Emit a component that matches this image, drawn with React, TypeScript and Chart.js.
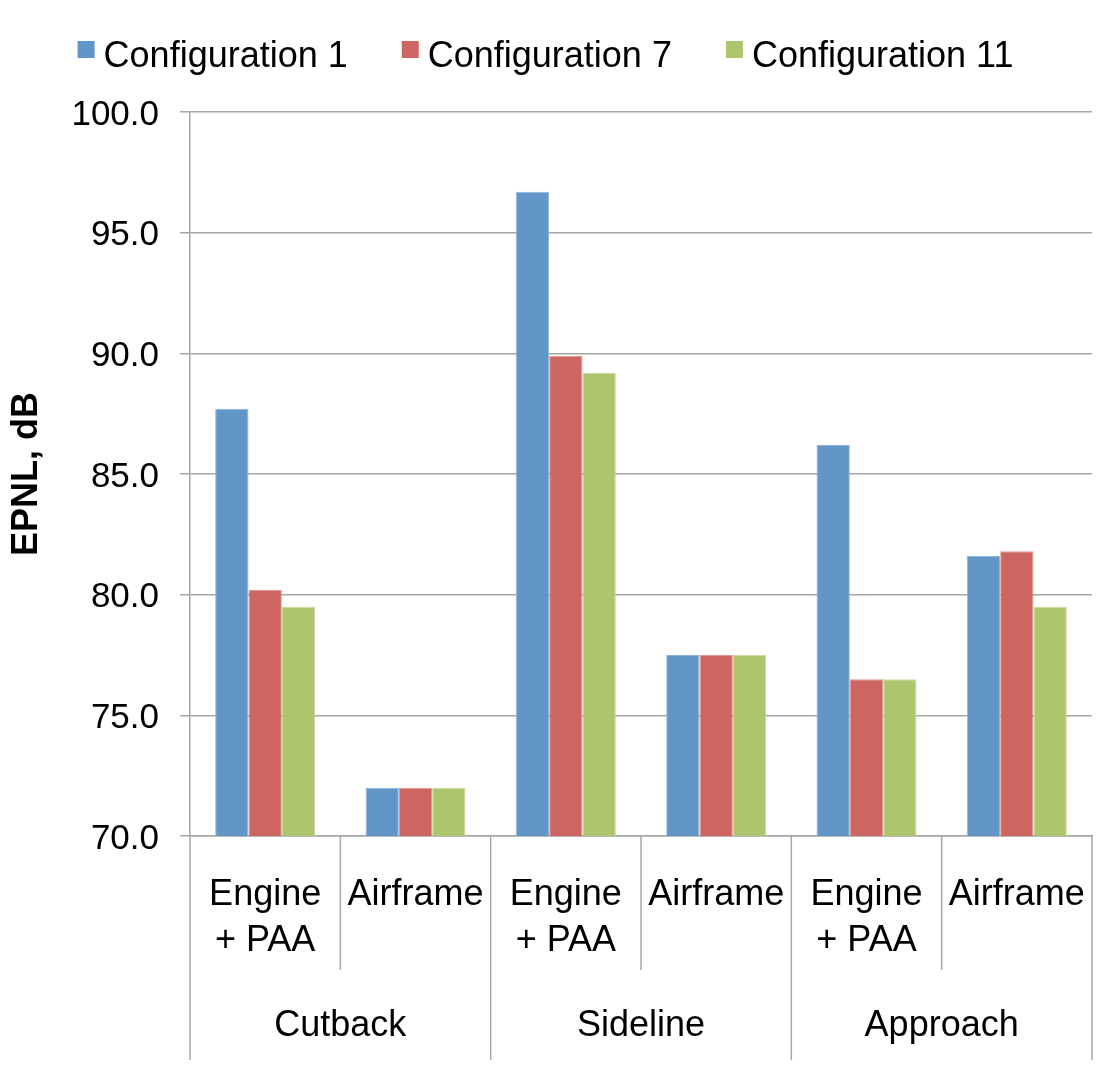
import React, { useEffect, useRef } from 'react';
import { Chart, registerables } from 'chart.js';

Chart.register(...registerables);

const subCategories: (string | string[])[] = [
  ['Engine', '+ PAA'],
  'Airframe',
  ['Engine', '+ PAA'],
  'Airframe',
  ['Engine', '+ PAA'],
  'Airframe',
];
const groupLabels = ['Cutback', 'Sideline', 'Approach'];
const seriesNames = ['Configuration 1', 'Configuration 7', 'Configuration 11'];
const config1 = [87.7, 72.0, 96.7, 77.5, 86.2, 81.6];
const config7 = [80.2, 72.0, 89.9, 77.5, 76.5, 81.8];
const config11 = [79.5, 72.0, 89.2, 77.5, 76.5, 79.5];
const seriesColors = ['#6296C8', '#CD6660', '#ADC66E'];
const seriesEdges = ['#8DB3DA', '#E0948F', '#C9DA9C'];
const yMin = 70;
const yMax = 100;
const yStep = 5;
const yTitle = 'EPNL, dB';

const FONT = '"Liberation Sans", Arial, Helvetica, sans-serif';
const GRID = '#A6A6A6';

const decorPlugin = {
  id: 'decor',
  afterDraw(chart: any) {
    const ctx = chart.ctx;
    const xs = chart.scales.x;
    const area = chart.chartArea;
    const n = chart.data.labels.length;
    ctx.save();
    // separators between categories below the axis
    ctx.strokeStyle = GRID;
    ctx.lineWidth = 1.5;
    for (let i = 0; i <= n; i++) {
      let x: number;
      if (i === 0) x = area.left;
      else if (i === n) x = area.right;
      else x = (xs.getPixelForValue(i - 1) + xs.getPixelForValue(i)) / 2;
      const end = i % 2 === 0 ? area.bottom + 224 : area.bottom + 134;
      ctx.beginPath();
      ctx.moveTo(x, area.bottom);
      ctx.lineTo(x, end);
      ctx.stroke();
    }
    // group labels
    ctx.fillStyle = '#000';
    ctx.font = `36px ${FONT}`;
    ctx.textAlign = 'center';
    ctx.textBaseline = 'middle';
    groupLabels.forEach((g, gi) => {
      const x = (xs.getPixelForValue(gi * 2) + xs.getPixelForValue(gi * 2 + 1)) / 2;
      ctx.fillText(g, x, area.bottom + 190);
    });
    // legend
    const boxSize = 17;
    const boxGap = 9;
    const itemGap = 54;
    ctx.textAlign = 'left';
    const items = chart.data.datasets.map((ds: any) => ({
      label: ds.label,
      color: ds.backgroundColor,
      w: ctx.measureText(ds.label).width,
    }));
    const total =
      items.reduce((s: number, it: any) => s + boxSize + boxGap + it.w, 0) +
      itemGap * (items.length - 1);
    let cx = chart.width / 2 - 8 - total / 2;
    const textY = 57;
    items.forEach((it: any) => {
      ctx.fillStyle = it.color;
      ctx.fillRect(cx, 41, boxSize, boxSize);
      ctx.fillStyle = '#000';
      ctx.fillText(it.label, cx + boxSize + boxGap, textY);
      cx += boxSize + boxGap + it.w + itemGap;
    });
    ctx.restore();
  },
};

export default function App() {
  const canvasRef = useRef<HTMLCanvasElement | null>(null);

  useEffect(() => {
    if (!canvasRef.current) return;
    Chart.defaults.font.family = FONT;
    const values = [config1, config7, config11];
    const chart = new Chart(canvasRef.current, {
      type: 'bar',
      data: {
        labels: subCategories as any,
        datasets: seriesNames.map((name, i) => ({
          label: name,
          data: values[i],
          backgroundColor: seriesColors[i],
          borderColor: seriesEdges[i],
          borderWidth: 1,
          categoryPercentage: 0.665,
          barPercentage: 1.0,
        })),
      },
      options: {
        responsive: false,
        animation: false,
        layout: { padding: { top: 112, right: 15, bottom: 0, left: 0 } },
        plugins: {
          legend: { display: false },
          tooltip: { enabled: false },
          title: { display: false },
        },
        scales: {
          x: {
            type: 'category',
            grid: { display: false },
            border: { display: true, color: GRID, width: 1.5 },
            ticks: {
              color: '#000',
              font: { size: 36, lineHeight: 1.28 },
              padding: 28,
              maxRotation: 0,
              minRotation: 0,
              autoSkip: false,
            },
            afterFit: (scale: any) => {
              scale.height = 229;
              scale.paddingLeft = 0;
              scale.paddingRight = 0;
            },
          },
          y: {
            min: yMin,
            max: yMax,
            grid: {
              color: GRID,
              lineWidth: 1.5,
              drawTicks: true,
              tickLength: 10,
            },
            border: { display: true, color: GRID, width: 1.5 },
            ticks: {
              stepSize: yStep,
              color: '#000',
              font: { size: 35 },
              padding: 21,
              labelOffset: 3,
              callback: (v: any) => Number(v).toFixed(1),
            },
            title: {
              display: true,
              text: yTitle,
              color: '#000',
              font: { size: 36, weight: 'bold', lineHeight: 1.2 },
              padding: { top: 5, bottom: 0 },
            },
            afterFit: (scale: any) => {
              scale.width = 190;
            },
          },
        },
      },
      plugins: [decorPlugin],
    });
    return () => chart.destroy();
  }, []);

  return (
    <div style={{ position: 'absolute', left: 0, top: 0, width: 1107, height: 1065, background: '#fff' }}>
      <canvas ref={canvasRef} width={1107} height={1065} style={{ display: 'block' }} />
    </div>
  );
}
